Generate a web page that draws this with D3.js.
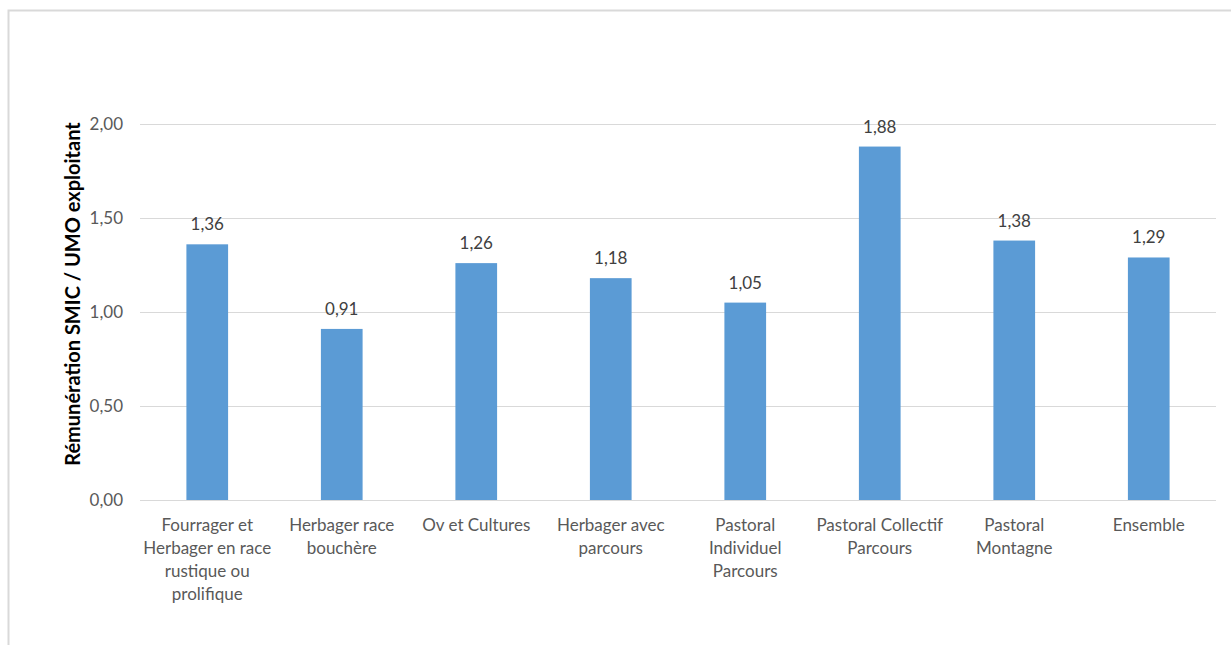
<!DOCTYPE html>
<html>
<head>
<meta charset="utf-8">
<script src="https://cdn.jsdelivr.net/npm/d3@7"></script>
<style>
  html, body { margin: 0; padding: 0; background: #fff; }
  svg { display: block; font-family: Lato, "Liberation Sans", sans-serif; }
</style>
</head>
<body>
<svg id="chart" width="1231" height="646"></svg>
<script>
// Farm system categories (multi-line labels split on "|")
const categories = [
  "Fourrager et|Herbager en race|rustique ou|prolifique",
  "Herbager race|bouchère",
  "Ov et Cultures",
  "Herbager avec|parcours",
  "Pastoral|Individuel|Parcours",
  "Pastoral Collectif|Parcours",
  "Pastoral|Montagne",
  "Ensemble"
];
// Remuneration expressed in SMIC per worker-unit
const values = [1.36, 0.91, 1.26, 1.18, 1.05, 1.88, 1.38, 1.29];
const yTicks = [0, 0.5, 1.0, 1.5, 2.0];
const yTitle = "Rémunération SMIC / UMO exploitant";

const svg = d3.select("#chart");
const fmt = v => d3.format(".2f")(v).replace(".", ",");

// Chart frame (top and left edges only)
svg.append("path")
  .attr("d", "M8.5,645 V10.5 H1231")
  .attr("fill", "none")
  .attr("stroke", "#d9d9d9")
  .attr("stroke-width", 2);

const plot = { left: 140, right: 1216, top: 124, bottom: 500 };

const x = d3.scaleBand()
  .domain(categories)
  .range([plot.left, plot.right])
  .paddingInner(0.69)
  .paddingOuter(0.345);

const y = d3.scaleLinear()
  .domain([0, 2])
  .range([plot.bottom, plot.top]);

// Horizontal gridlines
svg.append("g")
  .selectAll("line")
  .data(yTicks)
  .join("line")
  .attr("x1", plot.left)
  .attr("x2", plot.right)
  .attr("y1", d => Math.round(y(d)) + 0.5)
  .attr("y2", d => Math.round(y(d)) + 0.5)
  .attr("stroke", "#d9d9d9")
  .attr("stroke-width", 1);

// Y axis tick labels
const yAxis = d3.axisLeft(y).tickValues(yTicks).tickFormat(fmt).tickSize(0).tickPadding(17);
const gy = svg.append("g").attr("transform", `translate(${plot.left},0)`).call(yAxis);
gy.select(".domain").remove();
gy.selectAll("text")
  .attr("fill", "#595959")
  .style("font-size", "17px")
  .style("font-family", "Lato, sans-serif");

// Bars
svg.append("g")
  .selectAll("rect")
  .data(values)
  .join("rect")
  .attr("x", (d, i) => x(categories[i]))
  .attr("y", d => y(d))
  .attr("width", x.bandwidth())
  .attr("height", d => y(0) - y(d))
  .attr("fill", "#5b9bd5");

// Value labels above bars
svg.append("g")
  .selectAll("text")
  .data(values)
  .join("text")
  .attr("x", (d, i) => x(categories[i]) + x.bandwidth() / 2)
  .attr("y", d => y(d) - 14)
  .attr("text-anchor", "middle")
  .attr("fill", "#404040")
  .style("font-size", "17px")
  .text(fmt);

// X axis category labels
const xg = svg.append("g");
categories.forEach(c => {
  const t = xg.append("text")
    .attr("x", x(c) + x.bandwidth() / 2)
    .attr("y", 531)
    .attr("text-anchor", "middle")
    .attr("fill", "#595959")
    .style("font-size", "17px");
  c.split("|").forEach((line, k) => {
    t.append("tspan")
      .attr("x", x(c) + x.bandwidth() / 2)
      .attr("dy", k === 0 ? 0 : 23)
      .text(line);
  });
});

// Y axis title
svg.append("text")
  .attr("transform", "translate(80,294) rotate(-90)")
  .attr("text-anchor", "middle")
  .attr("fill", "#000")
  .style("font-size", "20px")
  .style("font-weight", "bold")
  .text(yTitle);
</script>
</body>
</html>
